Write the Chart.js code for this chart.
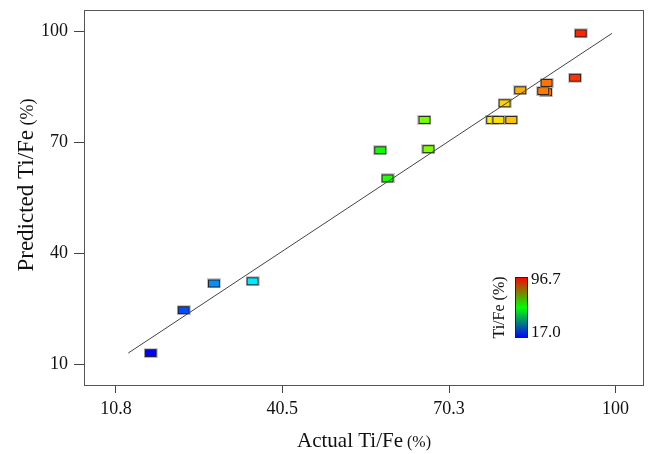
<!DOCTYPE html>
<html>
<head>
<meta charset="utf-8">
<title>Predicted vs Actual Ti/Fe</title>
<script src="https://cdn.jsdelivr.net/npm/chart.js@4.4.1/dist/chart.umd.min.js"></script>
<style>
  html, body { margin: 0; padding: 0; background: #fff; }
  canvas { display: block; }
</style>
</head>
<body>
<canvas id="chart" width="651" height="454"></canvas>
<script>
// measured vs model output, Ti/Fe in %
const actual    = [17.0, 22.9, 28.3, 35.2, 58.0, 59.3, 65.9, 66.6, 78.0, 79.1, 81.4, 80.2, 83.0, 87.6, 87.1, 87.7, 92.8, 93.8];
const predicted = [13.0, 24.6, 31.8, 32.4, 67.8, 60.2, 76.0, 68.1, 76.0, 76.0, 76.0, 80.5, 84.0, 83.5, 83.8, 86.0, 87.4, 99.4];

const xTicks = [10.8, 40.5, 70.3, 100];
const yTicks = [10, 40, 70, 100];

// colour legend range
const colorMin = 17.0;
const colorMax = 96.7;

const SERIF = "'Liberation Serif', 'Times New Roman', serif";

// blue -> cyan -> green -> yellow -> red
function rampColor(v) {
  let t = (v - colorMin) / (colorMax - colorMin);
  t = Math.max(0, Math.min(1, t));
  return `hsl(${240 * (1 - t)}, 100%, 50%)`;
}

function boxMarker(color) {
  const c = document.createElement("canvas");
  c.width = 14; c.height = 10;
  const g = c.getContext("2d");
  g.fillStyle = "rgba(160,160,160,0.55)";
  g.fillRect(0, 0, 14, 10);
  g.fillStyle = color;
  g.fillRect(1, 1, 12, 8);
  g.strokeStyle = "#222";
  g.lineWidth = 1;
  g.strokeRect(1.5, 1.5, 11, 7);
  return c;
}

const points = actual.map((a, i) => ({ x: a, y: predicted[i] }));
const markers = actual.map(a => boxMarker(rampColor(a)));

const lo = Math.min(...predicted);
const hi = Math.max(...predicted);

const frame = {
  id: "frame",
  beforeDatasetsDraw(chart) {
    const { ctx, chartArea: a } = chart;
    ctx.save();
    ctx.strokeStyle = "#555";
    ctx.lineWidth = 1;
    ctx.strokeRect(a.left + 0.5, a.top + 0.5, a.right - a.left - 1, a.bottom - a.top - 1);
    ctx.restore();
  }
};

// title text with a smaller "(%)" suffix
function mixedTitle(ctx, main, unit, size, unitSize, cx, cy, angle) {
  ctx.save();
  ctx.translate(cx, cy);
  ctx.rotate(angle);
  ctx.fillStyle = "#111";
  ctx.textBaseline = "alphabetic";
  ctx.font = `${size}px ${SERIF}`;
  const w1 = ctx.measureText(main).width;
  ctx.font = `${unitSize}px ${SERIF}`;
  const w2 = ctx.measureText(" " + unit).width;
  const x0 = -(w1 + w2) / 2;
  const base = size * 0.35;
  ctx.font = `${size}px ${SERIF}`;
  ctx.fillText(main, x0, base);
  ctx.font = `${unitSize}px ${SERIF}`;
  ctx.fillText(" " + unit, x0 + w1, base);
  ctx.restore();
}

const titles = {
  id: "titles",
  afterDraw(chart) {
    const { ctx, chartArea: a } = chart;
    mixedTitle(ctx, "Actual Ti/Fe", "(%)", 21, 16, (a.left + a.right) / 2, 440, 0);
    mixedTitle(ctx, "Predicted Ti/Fe", "(%)", 23, 18, 25, 185, -Math.PI / 2);
  }
};

const colorBar = {
  id: "colorBar",
  afterDraw(chart) {
    const { ctx } = chart;
    const x = 515, y = 277, w = 13, h = 61;
    ctx.save();
    const grad = ctx.createLinearGradient(0, y, 0, y + h);
    grad.addColorStop(0, "rgb(255,0,0)");
    grad.addColorStop(0.5, "rgb(0,255,0)");
    grad.addColorStop(1, "rgb(0,0,255)");
    ctx.fillStyle = grad;
    ctx.fillRect(x, y, w, h);
    ctx.strokeStyle = "#222";
    ctx.lineWidth = 1;
    ctx.strokeRect(x + 0.5, y + 0.5, w - 1, h - 1);

    ctx.fillStyle = "#111";
    ctx.font = `17px ${SERIF}`;
    ctx.textAlign = "left";
    ctx.textBaseline = "middle";
    ctx.fillText(colorMax.toFixed(1), x + w + 3, y + 3);
    ctx.fillText(colorMin.toFixed(1), x + w + 3, y + h - 5);

    ctx.translate(499, y + h / 2);
    ctx.rotate(-Math.PI / 2);
    ctx.textAlign = "center";
    ctx.font = `16px ${SERIF}`;
    ctx.fillText("Ti/Fe (%)", 0, 1);
    ctx.restore();
  }
};

new Chart(document.getElementById("chart"), {
  data: {
    datasets: [
      {
        type: "line",
        data: [{ x: lo, y: lo }, { x: hi, y: hi }],
        borderColor: "#444",
        borderWidth: 1,
        pointRadius: 0
      },
      {
        type: "scatter",
        data: points,
        pointStyle: ctx => markers[ctx.dataIndex],
        pointRadius: 6
      }
    ]
  },
  options: {
    responsive: false,
    animation: false,
    layout: { padding: { top: 10, right: 6, left: 0, bottom: 0 } },
    plugins: { legend: { display: false }, tooltip: { enabled: false } },
    scales: {
      x: {
        type: "linear",
        min: 5.1,
        max: 105.1,
        afterBuildTicks: s => { s.ticks = xTicks.map(v => ({ value: v })); },
        afterFit: s => { s.height = 68; s.paddingLeft = 0; s.paddingRight = 0; },
        border: { display: false },
        grid: { drawOnChartArea: false, drawTicks: true, tickLength: 7, color: "#444" },
        ticks: {
          autoSkip: false,
          maxRotation: 0,
          padding: 5,
          color: "#111",
          font: { family: SERIF, size: 18 },
          callback: v => String(v)
        }
      },
      y: {
        type: "linear",
        min: 4.1,
        max: 105.7,
        afterBuildTicks: s => { s.ticks = yTicks.map(v => ({ value: v })); },
        afterFit: s => { s.width = 84; s.paddingTop = 0; s.paddingBottom = 0; },
        border: { display: false },
        grid: { drawOnChartArea: false, drawTicks: true, tickLength: 10, color: "#444" },
        ticks: {
          autoSkip: false,
          padding: 6,
          color: "#111",
          font: { family: SERIF, size: 18 },
          callback: v => String(v)
        }
      }
    }
  },
  plugins: [frame, titles, colorBar]
});
</script>
</body>
</html>
